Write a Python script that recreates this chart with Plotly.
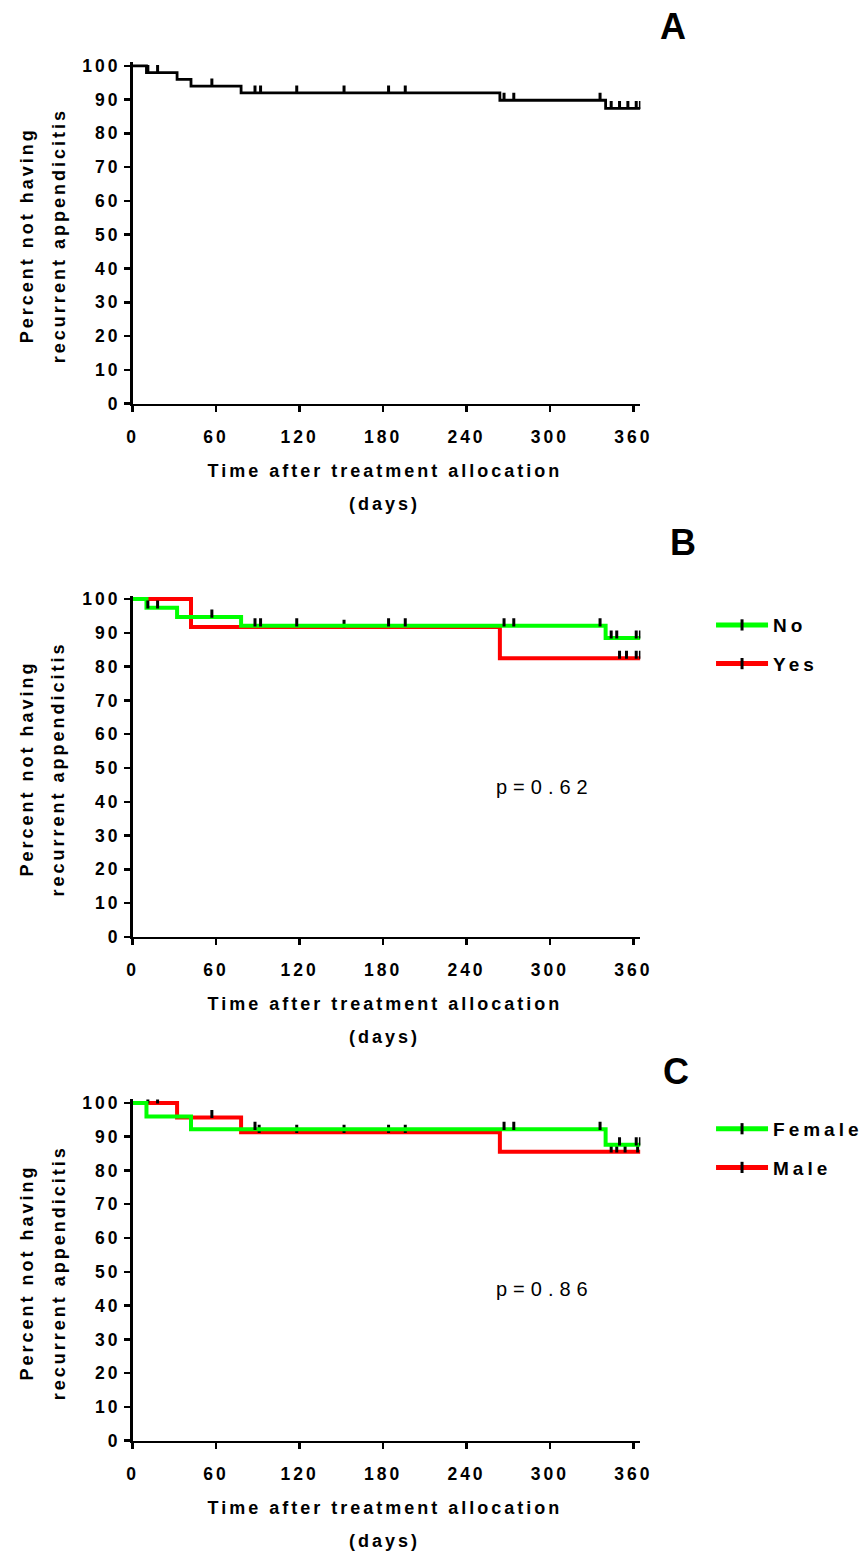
import numpy as np
import plotly.graph_objects as go

# ---------------- data ----------------
X_TICKS = [0, 60, 120, 180, 240, 300, 360]
Y_TICKS = [0, 10, 20, 30, 40, 50, 60, 70, 80, 90, 100]
END_DAY = 365

# Panel A - all patients
A_event_days = [10, 32, 42, 78, 264, 340]
A_surv = [100, 98, 96, 94, 92, 89.8, 87.4]
A_censor_days = [11, 18, 57, 88, 92, 118, 152, 184, 196, 267, 274, 336, 344, 350, 356, 362, 365]

# Panel B - No / Yes
B_no_event_days = [10, 32, 78, 340]
B_no_surv = [100, 97.4, 94.7, 92.1, 88.5]
B_no_censor_days = [11, 18, 57, 88, 92, 118, 184, 196, 267, 274, 336, 344, 348, 362, 365]
B_yes_event_days = [42, 264]
B_yes_surv = [100, 91.7, 82.5]
B_yes_censor_days = [152, 350, 355, 362, 365]

# Panel C - Female / Male
C_female_event_days = [10, 42, 340]
C_female_surv = [100, 96, 92.2, 87.6]
C_female_censor_days = [88, 267, 274, 336, 350, 362, 365]
C_male_event_days = [32, 78, 264]
C_male_surv = [100, 95.7, 91.3, 85.5]
C_male_censor_days = [11, 18, 57, 91, 118, 152, 184, 196, 344, 348, 354, 363]

P_VALUES = ["p=0.62", "p=0.86"]
GREEN = "#00FF00"
RED = "#FF0000"

W, H = 864, 1556
FONT = "Liberation Sans"
K = 1.01  # layout expansion about the page centre


def tx(px):
    return (W / 2 + (px - W / 2) * K) / W


def ty(py):
    return 1 - (H / 2 + (py - H / 2) * K) / H


def step_xy(events, surv):
    x = [0] + list(events) + [END_DAY]
    y = list(surv) + [surv[-1]]
    return x, y


def censor_levels(events, surv, days):
    idx = np.searchsorted(np.asarray(events), np.asarray(days), side="right")
    return [surv[i] for i in idx]


fig = go.Figure()


def add_curve(events, surv, censors, color, width, xa, ya):
    x, y = step_xy(events, surv)
    fig.add_trace(go.Scatter(x=x, y=y, mode="lines", line=dict(color=color, width=width, shape="hv"),
                             xaxis=xa, yaxis=ya, showlegend=False, hoverinfo="skip"))
    cy = censor_levels(events, surv, censors)
    fig.add_trace(go.Scatter(x=censors, y=cy, mode="markers",
                             marker=dict(size=1, color="rgba(0,0,0,0)"),
                             error_y=dict(type="data", symmetric=False, array=[2.2] * len(censors),
                                          arrayminus=[0.2] * len(censors), color="black",
                                          thickness=3, width=0),
                             cliponaxis=False, xaxis=xa, yaxis=ya, showlegend=False, hoverinfo="skip"))


# Panel A
add_curve(A_event_days, A_surv, A_censor_days, "black", 2.8, "x", "y")
# Panel B (red under green)
add_curve(B_yes_event_days, B_yes_surv, B_yes_censor_days, RED, 4, "x2", "y2")
add_curve(B_no_event_days, B_no_surv, B_no_censor_days, GREEN, 4, "x2", "y2")
# Panel C
add_curve(C_male_event_days, C_male_surv, C_male_censor_days, RED, 4, "x3", "y3")
add_curve(C_female_event_days, C_female_surv, C_female_censor_days, GREEN, 4, "x3", "y3")

# legend-only entries (order: green first)
for name, color, xa, ya, lg in [("No", GREEN, "x2", "y2", "legend"), ("Yes", RED, "x2", "y2", "legend"),
                                ("Female", GREEN, "x3", "y3", "legend2"), ("Male", RED, "x3", "y3", "legend2")]:
    fig.add_trace(go.Scatter(x=[None], y=[None], mode="lines+markers", name=name,
                             line=dict(color=color, width=5),
                             marker=dict(symbol="line-ns", size=8, color="black",
                                         line=dict(color="black", width=3)),
                             xaxis=xa, yaxis=ya, legend=lg, legendgroup=name, showlegend=True))

tickfont = dict(family=FONT, size=17.5, color="black", weight="bold")
xdom = [tx(132.5), tx(643)]
panels = [(405.5, ""), (939, "2"), (1443, "3")]
for zero_px, s in panels:
    top_px = zero_px - 101 * 3.38
    ydom = [ty(zero_px), ty(top_px)]
    fig.layout["xaxis" + s] = dict(domain=xdom, range=[0, END_DAY], tickvals=X_TICKS,
                                   showline=True, linecolor="black", linewidth=2.5,
                                   ticks="outside", ticklen=6, tickwidth=2.5, tickcolor="black",
                                   showgrid=False, zeroline=False, tickfont=tickfont,
                                   ticklabelstandoff=10, anchor="y" + s, fixedrange=True)
    fig.layout["yaxis" + s] = dict(domain=ydom, range=[0, 101], tickvals=Y_TICKS,
                                   showline=True, linecolor="black", linewidth=2.5,
                                   ticks="outside", ticklen=6, tickwidth=2.5, tickcolor="black",
                                   showgrid=False, zeroline=False, tickfont=tickfont,
                                   ticklabelstandoff=0, anchor="x" + s, fixedrange=True)

annotations = []


def ann(text, px, py, size, bold=True, angle=0):
    annotations.append(dict(text=text, x=tx(px), y=ty(py), xref="paper", yref="paper",
                            showarrow=False, xanchor="center", yanchor="middle", textangle=angle,
                            font=dict(family=FONT, size=size, color="black",
                                      weight="bold" if bold else "normal")))


for (zero_px, s), letter, lpos in zip(panels, ["A", "B", "C"], [(676, 28), (686, 544), (679, 1074)]):
    ann(letter, lpos[0], lpos[1], 36)                                   # index 0, 5, 10
    ann("Time after treatment allocation", 386, zero_px + 67.5, 18)
    ann("(days)", 386, zero_px + 100.5, 18)
    ann("Percent not having", 26, zero_px - 168, 18, angle=-90)
    ann("recurrent appendicitis", 58, zero_px - 168, 18, angle=-90)

ann(P_VALUES[0], 547, 789, 20, bold=False)                              # index 15
ann(P_VALUES[1], 547, 1291, 20, bold=False)                             # index 16

legfont = dict(family=FONT, size=19, color="black", weight="bold")
fig.update_layout(
    width=W, height=H, margin=dict(l=0, r=0, t=0, b=0),
    paper_bgcolor="white", plot_bgcolor="white",
    annotations=annotations,
    legend=dict(x=tx(714), y=ty(608), xanchor="left", yanchor="top", font=legfont,
                itemwidth=52, traceorder="grouped", tracegroupgap=11, bgcolor="rgba(0,0,0,0)"),
    legend2=dict(x=tx(714), y=ty(1112), xanchor="left", yanchor="top", font=legfont,
                 itemwidth=52, traceorder="grouped", tracegroupgap=11, bgcolor="rgba(0,0,0,0)"),
)

post = """
document.documentElement.style.margin='0';
document.documentElement.style.padding='0';
document.body.style.margin='0';
document.body.style.padding='0';
document.body.style.overflow='hidden';
var st = document.createElement('style');
st.textContent = [
  'g.xaxislayer-above text, g.yaxislayer-above text {letter-spacing:3px !important;}',
  'text.legendtext, .legendtext, .legendtext tspan {letter-spacing:4px !important;}',
  'g.annotation text.annotation-text {letter-spacing:3px;}',
  'g.annotation[data-index="0"] text, g.annotation[data-index="5"] text, g.annotation[data-index="10"] text {letter-spacing:0px !important;}',
  'g.annotation[data-index="15"] text, g.annotation[data-index="16"] text {letter-spacing:6px !important;}'
].join('\\n');
document.head.appendChild(st);
var gd = document.getElementById('{plot_id}');
function fix(){
  gd.querySelectorAll('[clip-path]').forEach(function(e){
    var c = e.getAttribute('clip-path') || '';
    if (c.indexOf('legend') >= 0) e.removeAttribute('clip-path');
  });
  gd.querySelectorAll('text').forEach(function(e){
    var t = (e.textContent || '').trim();
    if (t === 'No' || t === 'Yes' || t === 'Female' || t === 'Male') {
      e.setAttribute('letter-spacing', '4');
      e.style.setProperty('letter-spacing', '4px', 'important');
    }
  });
}
fix();
requestAnimationFrame(fix);
setTimeout(fix, 50);
setTimeout(fix, 300);
try { new MutationObserver(function(){ fix(); }).observe(gd, {childList: true, subtree: true}); } catch (err) {}
"""

fig.write_html("out.html", post_script=post, config={"staticPlot": True})
